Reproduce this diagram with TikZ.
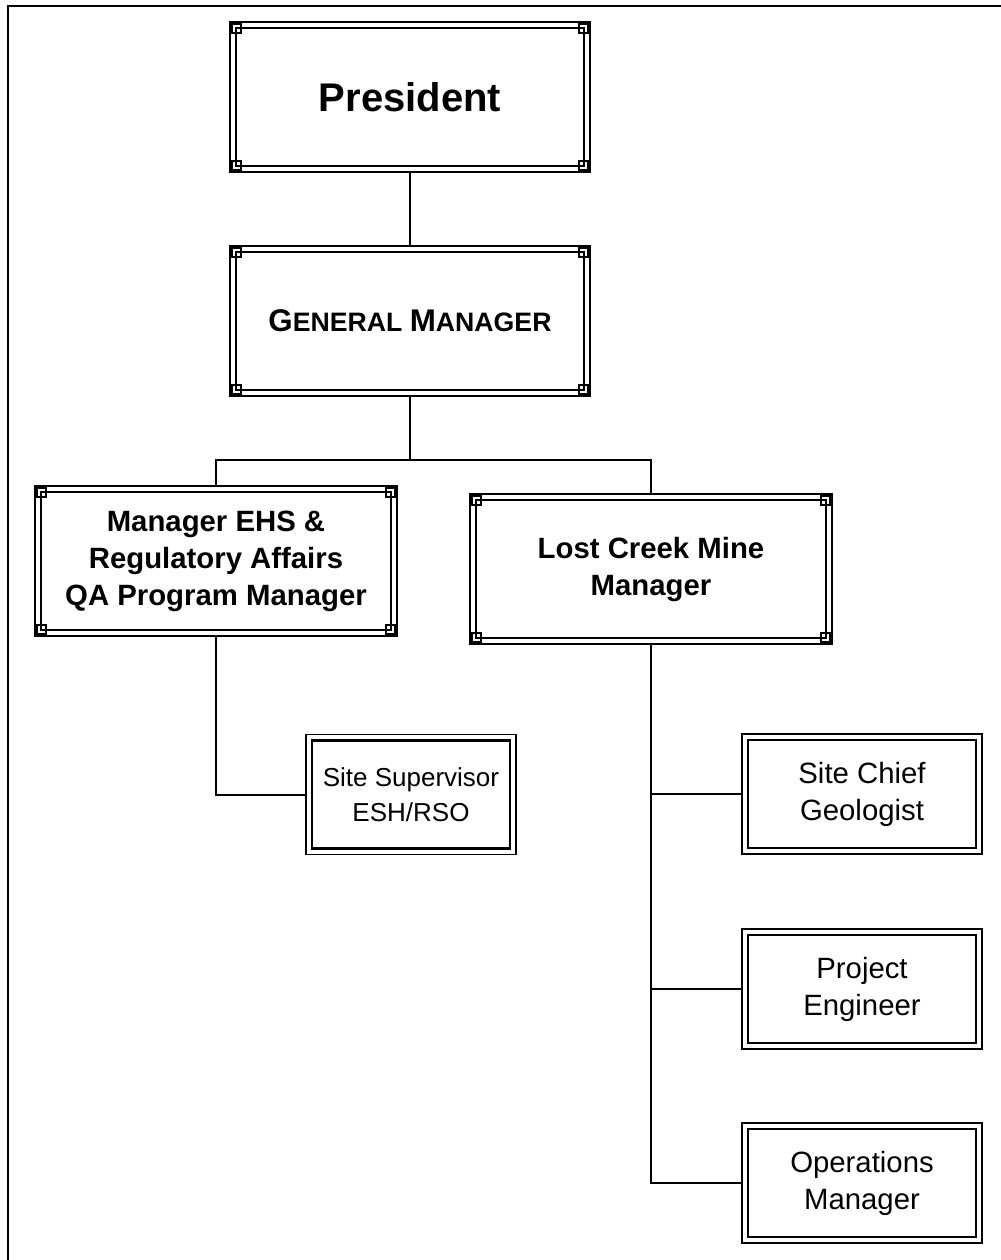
\documentclass[tikz,border=0pt]{standalone}
\usepackage{fontspec}
\setmainfont{Liberation Sans}
\usetikzlibrary{calc}
\tikzset{
  bigbox/.style={draw, line width=1.5pt, inner sep=0pt, outer sep=0pt, align=center,
    font=\bfseries\fontsize{22}{27.75}\selectfont},
  smallbox/.style={draw, line width=1.4pt, inner sep=0pt, outer sep=0pt, align=center,
    font=\fontsize{22}{27.75}\selectfont},
  inner line/.style={line width=1.1pt},
  conn/.style={line width=1.5pt},
}
\newcommand{\decobig}[1]{%
  \draw[inner line] ($(#1.north west)+(6,6)$) rectangle ($(#1.south east)+(-6,-6)$);
  \foreach \sx/\sy/\a in {1/1/north west,-1/1/north east,1/-1/south west,-1/-1/south east}{
    \draw[line width=0.9pt] ($(#1.\a)+(2*\sx,2*\sy)$) rectangle ($(#1.\a)+(11*\sx,11*\sy)$);
  }%
}
\newcommand{\decosmall}[1]{%
  \draw[line width=1.6pt] ($(#1.north west)+(6,6)$) rectangle ($(#1.south east)+(-6,-6)$);
}
\begin{document}
\begin{tikzpicture}[x=0.75pt,y=-0.75pt]
\useasboundingbox (0,0) rectangle (1000,1260);
\draw[line width=1.5pt] (8,1262) -- (8,5.5) -- (1002,5.5);

\node[bigbox, minimum width=360*0.75pt, minimum height=150*0.75pt,
  font=\bfseries\fontsize{30}{36}\selectfont] (pres) at (410,97) {President};
\decobig{pres}
\node[bigbox, minimum width=360*0.75pt, minimum height=150*0.75pt,
  font=\bfseries] (gm) at (410,321)
  {\fontsize{23.5}{28}\selectfont G\fontsize{20}{28}\selectfont ENERAL \fontsize{23.5}{28}\selectfont M\fontsize{20}{28}\selectfont ANAGER};
\decobig{gm}
\node[bigbox, minimum width=362*0.75pt, minimum height=150*0.75pt] (ehs) at (216,561)
  {Manager EHS \&\\Regulatory Affairs\\QA Program Manager};
\decobig{ehs}
\node[bigbox, minimum width=362*0.75pt, minimum height=150*0.75pt] (lcm) at (651,569)
  {Lost Creek Mine\\Manager};
\decobig{lcm}

\node[smallbox, minimum width=210*0.75pt, minimum height=120*0.75pt,
  font=\fontsize{19.5}{26}\selectfont] (ssup) at (411,794.5)
  {Site Supervisor\\ESH/RSO};
\decosmall{ssup}
\node[smallbox, minimum width=240*0.75pt, minimum height=120*0.75pt] (scg) at (862,794)
  {Site Chief\\Geologist};
\decosmall{scg}
\node[smallbox, minimum width=240*0.75pt, minimum height=120*0.75pt] (pe) at (862,989)
  {Project\\Engineer};
\decosmall{pe}
\node[smallbox, minimum width=240*0.75pt, minimum height=120*0.75pt] (om) at (862,1183)
  {Operations\\Manager};
\decosmall{om}

\coordinate (bar) at (410,460);
\draw[conn] (pres.south) -- (gm.north);
\draw[conn] (gm.south) -- (bar);
\draw[conn] (ehs.north) -- (ehs.north |- bar) -- (lcm.north |- bar) -- (lcm.north);
\draw[conn] (ehs.south) |- (ssup.west);
\draw[conn] (lcm.south) |- (om.west);
\draw[conn] (lcm.south |- scg.west) -- (scg.west);
\draw[conn] (lcm.south |- pe.west) -- (pe.west);
\end{tikzpicture}
\end{document}
